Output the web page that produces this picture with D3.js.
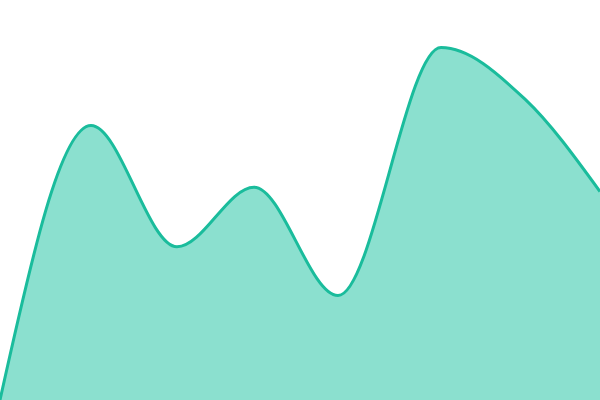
<!DOCTYPE html>
<html>
<head>
<meta charset="utf-8">
<script src="https://cdn.jsdelivr.net/npm/d3@7"></script>
<style>
  html, body { margin: 0; padding: 0; background: #fff; }
  svg { display: block; }
</style>
</head>
<body>
<div id="chart"></div>
<script>
const WIDTH = 600;
const HEIGHT = 400;

// sample positions and values
const xValues = [0, 91, 177, 254, 338, 441, 525, 600];
const yValues = [0, 68.6, 38.3, 53.2, 26.1, 88.1, 75.2, 52.1];

const data = xValues.map((x, i) => ({ x: x, y: yValues[i] }));

const svg = d3
  .select('#chart')
  .append('svg')
  .attr('width', WIDTH)
  .attr('height', HEIGHT);

const xScale = d3.scaleLinear().domain([0, 600]).range([0, WIDTH]);
const yScale = d3.scaleLinear().domain([0, 100]).range([HEIGHT, 0]);

const area = d3
  .area()
  .curve(d3.curveMonotoneX)
  .x((d) => xScale(d.x))
  .y0(yScale(0))
  .y1((d) => yScale(d.y));

const line = d3
  .line()
  .curve(d3.curveMonotoneX)
  .x((d) => xScale(d.x))
  .y((d) => yScale(d.y));

svg.append('path')
  .datum(data)
  .attr('d', area)
  .attr('fill', '#8be0cf');

svg.append('path')
  .datum(data)
  .attr('d', line)
  .attr('fill', 'none')
  .attr('stroke', '#1abc9c')
  .attr('stroke-width', 3);
</script>
</body>
</html>
